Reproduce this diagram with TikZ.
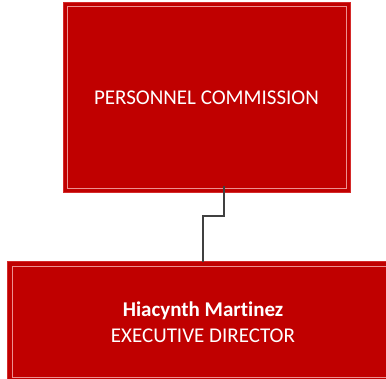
\documentclass[tikz,border=0pt]{standalone}
\usepackage{fontspec}
\setmainfont[Ligatures=NoCommon]{Carlito}
\usetikzlibrary{backgrounds}
\definecolor{boxred}{HTML}{C00000}
\definecolor{boxedge}{HTML}{D42A2A}
\definecolor{innerline}{HTML}{EC9090}
\definecolor{linkgray}{HTML}{404040}
\tikzset{
  orgbox/.style={draw=boxedge, line width=1pt, fill=boxred, text=white, inner sep=0pt, align=center,
    font=\fontsize{21}{25.5}\selectfont},
  orgtext/.style={text=white, inner sep=0pt, align=center, font=\fontsize{21}{25.5}\selectfont},
  boxfill/.style={draw=boxedge, line width=1pt, fill=boxred},
  innerframe/.style={draw=innerline, line width=1pt},
  link/.style={draw=linkgray, line width=1.6pt}
}
\begin{document}
\begin{tikzpicture}[x=1pt,y=1pt]
\useasboundingbox (0,0) rectangle (386,379);
\begin{scope}
\clip (-10,-10) rectangle (396,389);
\node[orgbox, minimum width=287pt, minimum height=190pt] (pc) at (206.5,281) {PERSONNEL COMMISSION};
\draw[innerframe] ([shift={(4.5,4.5)}]pc.south west) rectangle ([shift={(-4.5,-4.5)}]pc.north east);
\node[orgtext, minimum width=390pt, minimum height=120pt] (ed) at (203,57) {\textbf{Hiacynth Mart\kern0pt inez}\\EXECUTIVE DIRECTOR};
\begin{pgfonlayer}{background}
\draw[boxfill] (ed.south west) rectangle ([xshift=40pt]ed.north east);
\draw[innerframe] ([shift={(4.5,4.5)}]ed.south west) rectangle ([shift={(40pt,-4.5)}]ed.north east);
\end{pgfonlayer}
\coordinate (bend) at (224,163);
\draw[link] ([yshift=7pt]pc.south -| bend) -- (bend) -- (bend -| ed.north) -- (ed.north);
\end{scope}
\end{tikzpicture}
\end{document}
